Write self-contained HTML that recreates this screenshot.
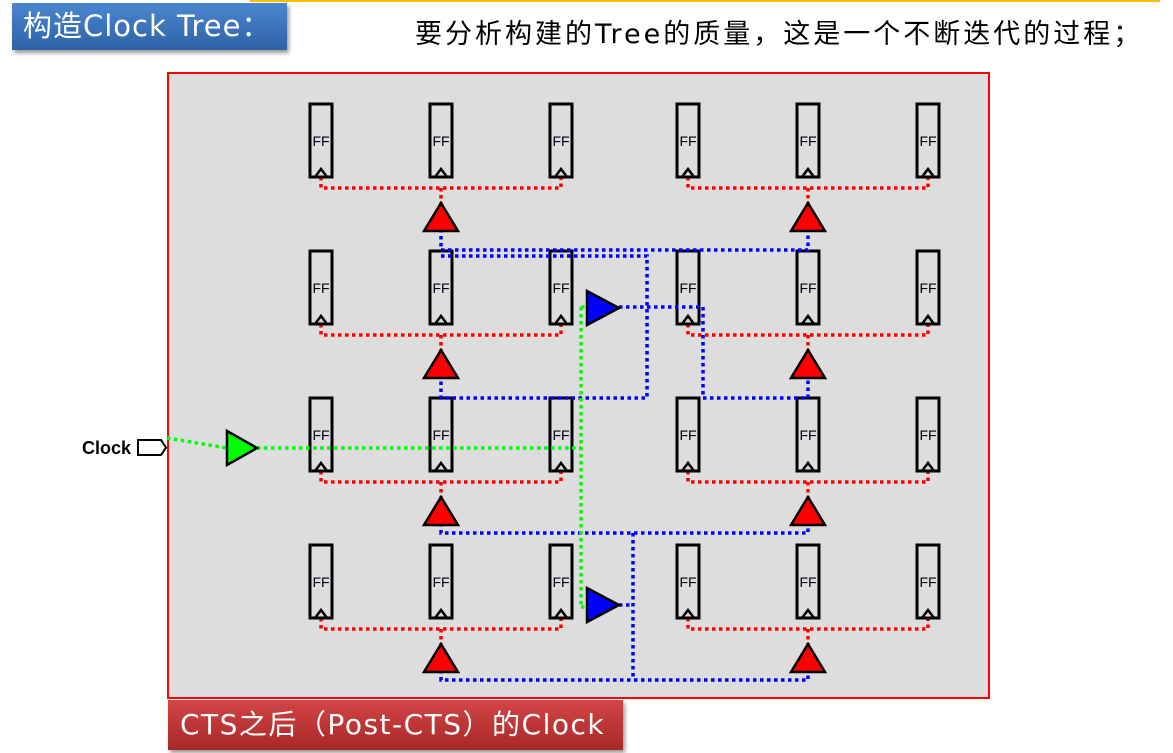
<!DOCTYPE html>
<html><head><meta charset="utf-8"><style>
body{margin:0;width:1173px;height:753px;background:#fff;overflow:hidden;position:relative;font-family:"DejaVu Sans","Liberation Sans","Noto Sans CJK SC",sans-serif}
.t1{position:absolute;left:12px;top:3px;width:275px;height:47px;background:linear-gradient(#4a86cf,#2f62a6);box-shadow:2px 3px 4px #999;color:#fff;font-size:29px;letter-spacing:1px;line-height:47px;padding-left:11px;box-sizing:border-box;white-space:nowrap}
.t2{position:absolute;left:415px;top:12px;font-size:27px;letter-spacing:3px;color:#000;white-space:nowrap}
.t3{position:absolute;left:168px;top:700px;width:455px;height:50px;background:linear-gradient(#d24545,#a82828);box-shadow:2px 3px 4px #999;color:#fff;font-size:28px;letter-spacing:1.5px;line-height:50px;padding-left:12px;box-sizing:border-box;white-space:nowrap}
.yl{position:absolute;left:250px;top:0;width:910px;height:2px;background:#f5c000}
</style></head><body>
<div class="yl"></div>
<div class="t1">构造Clock Tree：</div>
<div class="t2">要分析构建的Tree的质量，这是一个不断迭代的过程；</div>
<svg width="1173" height="753" style="position:absolute;left:0;top:0">
<defs>
<g id="ff"><rect x="-11" y="0" width="22" height="73" fill="#ddd" stroke="#000" stroke-width="3"/><polyline points="-6,73 0,65 6,73" fill="none" stroke="#000" stroke-width="2.5"/></g>
<polygon id="rt" points="0,-14 17,14 -17,14" fill="#f00" stroke="#000" stroke-width="2.5"/>
</defs>
<rect x="168" y="73" width="821" height="625" fill="#ddd" stroke="#f00" stroke-width="2"/>
<g fill="none" stroke="#f00" stroke-width="3.5" stroke-dasharray="3.5 3.5">
<path d="M321 177V188H561V177M441 188V203M688 177V188H928V177M808 188V203"/>
<path d="M321 324V335H561V324M441 335V350M688 324V335H928V324M808 335V350"/>
<path d="M321 471V482H561V471M441 482V497M688 471V482H928V471M808 482V497"/>
<path d="M321 618V629H561V618M441 629V644M688 618V629H928V618M808 629V644"/>
</g>
<g>
<use href="#ff" x="321" y="104"/><use href="#ff" x="441" y="104"/><use href="#ff" x="561" y="104"/><use href="#ff" x="688" y="104"/><use href="#ff" x="808" y="104"/><use href="#ff" x="928" y="104"/>
<use href="#ff" x="321" y="251"/><use href="#ff" x="441" y="251"/><use href="#ff" x="561" y="251"/><use href="#ff" x="688" y="251"/><use href="#ff" x="808" y="251"/><use href="#ff" x="928" y="251"/>
<use href="#ff" x="321" y="398"/><use href="#ff" x="441" y="398"/><use href="#ff" x="561" y="398"/><use href="#ff" x="688" y="398"/><use href="#ff" x="808" y="398"/><use href="#ff" x="928" y="398"/>
<use href="#ff" x="321" y="545"/><use href="#ff" x="441" y="545"/><use href="#ff" x="561" y="545"/><use href="#ff" x="688" y="545"/><use href="#ff" x="808" y="545"/><use href="#ff" x="928" y="545"/>
</g>
<g fill="none" stroke="#00f" stroke-width="3.5" stroke-dasharray="3.5 3.5">
<path d="M441 222V250H808V222"/>
<path d="M441 256H647V398H441V370"/>
<path d="M619 307H703V398H808V370"/>
<path d="M441 516V533H808V516"/>
<path d="M441 663V680H808V663"/>
<path d="M619 605H633M633 533V680"/>
</g>
<g fill="none" stroke="#0f0" stroke-width="3.5" stroke-dasharray="3.5 3.5">
<path d="M167 438L227 448M257 448H581M581 307V607M581 307H587M581 607H587"/>
</g>
<g font-size="14" text-anchor="middle" fill="#001" font-family="Liberation Sans,sans-serif">
<text x="321" y="146">FF</text><text x="441" y="146">FF</text><text x="561" y="146">FF</text><text x="688" y="146">FF</text><text x="808" y="146">FF</text><text x="928" y="146">FF</text>
<text x="321" y="293">FF</text><text x="441" y="293">FF</text><text x="561" y="293">FF</text><text x="688" y="293">FF</text><text x="808" y="293">FF</text><text x="928" y="293">FF</text>
<text x="321" y="440">FF</text><text x="441" y="440">FF</text><text x="561" y="440">FF</text><text x="688" y="440">FF</text><text x="808" y="440">FF</text><text x="928" y="440">FF</text>
<text x="321" y="587">FF</text><text x="441" y="587">FF</text><text x="561" y="587">FF</text><text x="688" y="587">FF</text><text x="808" y="587">FF</text><text x="928" y="587">FF</text>
</g>
<use href="#rt" x="441" y="217"/><use href="#rt" x="808" y="217"/>
<use href="#rt" x="441" y="364"/><use href="#rt" x="808" y="364"/>
<use href="#rt" x="441" y="511"/><use href="#rt" x="808" y="511"/>
<use href="#rt" x="441" y="658"/><use href="#rt" x="808" y="658"/>
<polygon points="587,291 619,308 587,325" fill="#00f" stroke="#000" stroke-width="2.5"/>
<polygon points="587,588 619,605 587,622" fill="#00f" stroke="#000" stroke-width="2.5"/>
<polygon points="227,431 257,448 227,465" fill="#0f0" stroke="#000" stroke-width="2.5"/>
<polygon points="138,440 161,440 166,447.5 161,455 138,455" fill="#fff" stroke="#000" stroke-width="2"/>
<text x="82" y="454" font-size="18" font-weight="bold" fill="#000" font-family="Liberation Sans,sans-serif">Clock</text>
</svg>
<div class="t3">CTS之后（Post-CTS）的Clock</div>
</body></html>
